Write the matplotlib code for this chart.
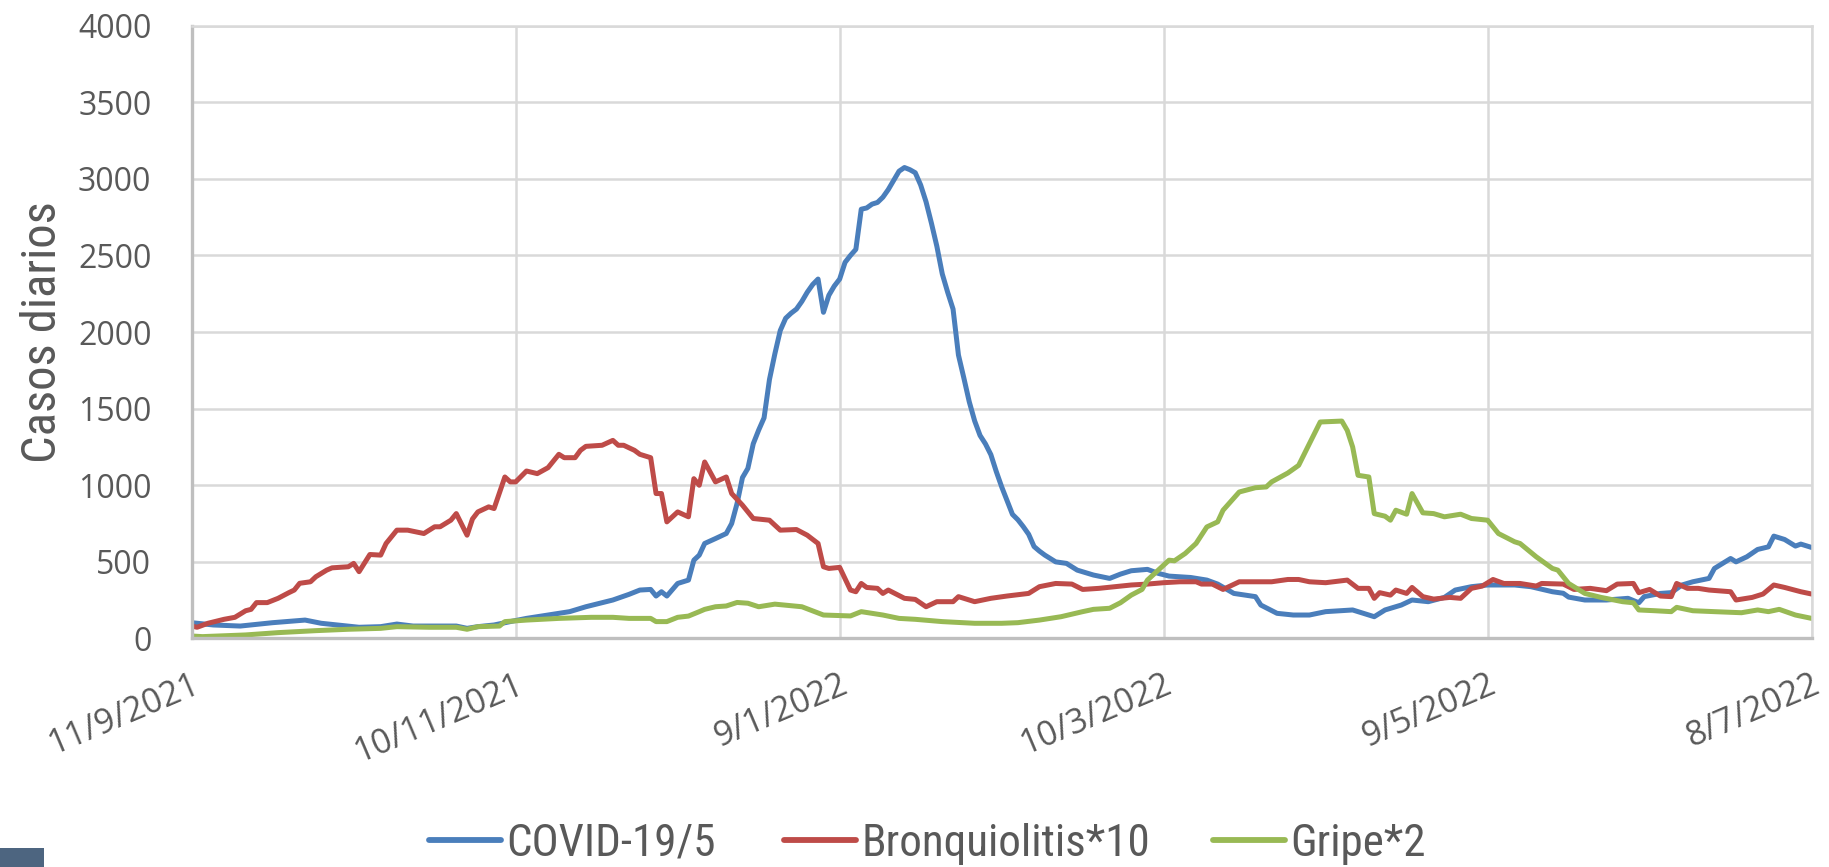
import matplotlib
matplotlib.use("Agg")
import matplotlib.pyplot as plt
from matplotlib import font_manager
from matplotlib.font_manager import FontProperties
from matplotlib.lines import Line2D
from matplotlib.patches import Rectangle
from datetime import date, timedelta

# Daily series: day offset from the first date, value on that day
start = date(2021, 9, 11)
tick_days = [0, 60, 120, 180, 240, 300]
tick_labels = ["11/9/2021", "10/11/2021", "9/1/2022", "10/3/2022", "9/5/2022", "8/7/2022"]
y_ticks = [0, 500, 1000, 1500, 2000, 2500, 3000, 3500, 4000]

covid_days = [0, 4, 9, 15, 21, 24, 27, 31, 35, 38, 41, 49, 51, 53, 56, 59, 62, 66, 70, 73,
              76, 78, 81, 83, 85, 86, 87, 88, 90, 92, 93, 94, 95, 97, 99, 100, 101, 102, 103, 104,
              105, 106, 107, 108, 109, 110, 111, 112, 113, 114, 115, 116, 117, 118, 119, 120, 121, 122, 123, 124,
              125, 126, 127, 128, 129, 130, 131, 132, 133, 134, 135, 136, 137, 138, 139, 140, 141, 142, 143, 144,
              145, 146, 147, 148, 149, 150, 151, 152, 153, 154, 155, 156, 157, 158, 160, 162, 164, 167, 170, 172,
              174, 177, 179, 181, 185, 188, 190, 193, 197, 198, 201, 204, 207, 210, 215, 217, 219, 221, 224, 226,
              229, 232, 234, 237, 240, 245, 248, 252, 254, 255, 258, 262, 266, 268, 269, 272, 274, 276, 278, 281,
              282, 285, 286, 288, 290, 292, 293, 295, 297, 298, 300]
covid_vals = [103, 88, 81, 103, 120, 99, 88, 73, 77, 94, 81, 81, 66, 77, 88, 110, 131, 153, 175, 207,
              233, 251, 288, 316, 320, 277, 305, 277, 359, 381, 511, 544, 620, 652, 685, 750, 881, 1050, 1110, 1271,
              1360, 1440, 1690, 1858, 2010, 2090, 2123, 2150, 2200, 2260, 2310, 2346, 2129, 2240, 2300, 2346, 2455, 2500, 2540, 2802,
              2810, 2835, 2846, 2880, 2930, 2990, 3050, 3074, 3060, 3040, 2960, 2850, 2710, 2560, 2380, 2260, 2150, 1850, 1700, 1545,
              1420, 1325, 1270, 1200, 1090, 990, 900, 810, 775, 730, 680, 600, 570, 544, 500, 490, 446, 414, 392, 420,
              442, 451, 425, 407, 398, 381, 355, 294, 273, 218, 164, 153, 153, 175, 186, 164, 142, 186, 218, 251,
              240, 268, 316, 338, 349, 349, 338, 305, 295, 270, 251, 251, 262, 233, 273, 294, 299, 349, 370, 392,
              457, 522, 500, 533, 581, 598, 668, 646, 603, 616, 594]

bronq_days = [0, 1, 3, 6, 8, 10, 11, 12, 14, 16, 18, 19, 20, 22, 23, 25, 26, 29, 30, 31,
              33, 35, 36, 38, 40, 43, 45, 46, 48, 49, 51, 52, 53, 55, 56, 58, 59, 60, 62, 64,
              66, 68, 69, 71, 72, 73, 76, 78, 79, 80, 82, 83, 85, 86, 87, 88, 90, 92, 93, 94,
              95, 97, 99, 100, 102, 104, 107, 109, 112, 114, 116, 117, 118, 120, 122, 123, 124, 125, 127, 128,
              129, 132, 134, 136, 138, 141, 142, 145, 148, 151, 155, 157, 160, 163, 165, 168, 171, 174, 177, 180,
              183, 186, 187, 189, 191, 194, 197, 200, 203, 205, 207, 210, 214, 216, 218, 219, 220, 222, 223, 225,
              226, 228, 230, 233, 235, 237, 239, 241, 243, 246, 249, 250, 254, 256, 259, 262, 264, 267, 268, 270,
              272, 274, 275, 277, 279, 281, 285, 286, 289, 291, 293, 295, 298, 300]
bronq_vals = [81, 73, 99, 125, 138, 181, 190, 234, 234, 262, 299, 316, 360, 370, 403, 446, 461, 468, 490, 436,
              548, 544, 620, 707, 707, 685, 729, 729, 772, 815, 674, 780, 826, 859, 848, 1054, 1022, 1022, 1093, 1076,
              1115, 1202, 1180, 1180, 1228, 1254, 1261, 1293, 1261, 1261, 1228, 1202, 1180, 946, 946, 761, 826, 794, 1043, 1000,
              1152, 1022, 1054, 946, 870, 783, 772, 707, 711, 674, 620, 468, 457, 464, 316, 305, 359, 333, 327, 294,
              316, 262, 255, 207, 240, 240, 273, 240, 262, 277, 294, 338, 359, 355, 320, 327, 338, 349, 355, 364,
              370, 370, 355, 355, 320, 370, 370, 370, 385, 385, 370, 364, 381, 327, 327, 262, 299, 283, 316, 294,
              333, 273, 257, 268, 262, 327, 342, 385, 359, 359, 342, 359, 355, 320, 327, 312, 355, 359, 299, 320,
              277, 273, 359, 327, 327, 316, 305, 251, 268, 290, 349, 333, 305, 290]

gripe_days = [0, 2, 10, 16, 23, 29, 35, 38, 44, 49, 51, 53, 57, 58, 62, 68, 74, 78, 81, 85,
              86, 88, 90, 92, 94, 95, 97, 99, 101, 103, 105, 108, 113, 117, 122, 124, 128, 131, 134, 139,
              145, 150, 153, 157, 161, 165, 167, 170, 172, 174, 176, 177, 179, 181, 182, 184, 186, 188, 190, 191,
              194, 197, 199, 200, 203, 205, 207, 209, 213, 214, 215, 216, 218, 219, 221, 222, 223, 225, 226, 228,
              230, 232, 235, 237, 240, 242, 245, 246, 249, 252, 253, 255, 258, 261, 265, 267, 268, 271, 274, 275,
              278, 282, 287, 290, 292, 294, 297, 300]
gripe_vals = [16, 12, 23, 38, 51, 60, 66, 77, 73, 73, 60, 77, 81, 110, 120, 131, 138, 138, 131, 131,
              110, 110, 138, 146, 175, 190, 207, 212, 235, 230, 207, 224, 207, 153, 147, 175, 153, 131, 125, 110,
              99, 99, 103, 120, 142, 175, 190, 197, 233, 283, 320, 381, 446, 511, 507, 555, 620, 728, 761, 837,
              956, 984, 989, 1022, 1080, 1130, 1272, 1413, 1419, 1358, 1250, 1065, 1054, 815, 798, 772, 837, 811, 946, 820,
              815, 794, 811, 783, 772, 685, 631, 620, 533, 457, 446, 359, 294, 268, 240, 233, 186, 181, 175, 203,
              181, 175, 168, 186, 175, 190, 153, 131]

series = [
    ("COVID-19/5", covid_days, covid_vals, "#4a7ebb"),
    ("Bronquiolitis*10", bronq_days, bronq_vals, "#be4b48"),
    ("Gripe*2", gripe_days, gripe_vals, "#98b954"),
]

TEXT = "#595959"


def to_dates(days):
    return [start + timedelta(days=d) for d in days]


def narrow_font(size, fallback_scale=0.8):
    """A condensed sans face if one is installed, else a plain one scaled down."""
    prefs = ["Liberation Sans Narrow", "DejaVu Sans Condensed", "Roboto Condensed",
             "Open Sans Condensed", "Noto Sans Condensed"]
    entries = font_manager.fontManager.ttflist
    for want in prefs:
        for f in entries:
            if f.name == want and f.style == "normal" and f.weight in (400, "normal", "regular"):
                return FontProperties(fname=f.fname, size=size)
    for f in entries:
        if f.stretch in ("condensed", "semi-condensed") and f.style == "normal" \
                and f.weight in (400, "normal", "regular"):
            return FontProperties(fname=f.fname, size=size)
    return FontProperties(family=["Roboto", "DejaVu Sans"], size=size * fallback_scale)


fig = plt.figure(figsize=(18.29, 8.67), dpi=100)
ax = fig.add_axes([0.1048, 0.2636, 0.9905 - 0.1048, 0.9704 - 0.2636])

for name, days, vals, color in series:
    ax.plot(to_dates(days), vals, color=color, lw=3.6, label=name,
            solid_joinstyle="round", solid_capstyle="round")

ax.set_xlim(start, start + timedelta(days=300))
ax.set_ylim(0, 4000)
ax.set_yticks(y_ticks)
ax.set_yticklabels([str(v) for v in y_ticks], family=["Open Sans", "DejaVu Sans"], fontsize=23)
ax.set_xticks(to_dates(tick_days))
ax.set_xticklabels(tick_labels, rotation=23, ha="right", va="top", rotation_mode="anchor",
                   family=["Open Sans", "DejaVu Sans"], fontsize=24.5)

grid_color = "#d9d9d9"
ax.grid(True, color=grid_color, lw=1.8)
ax.set_axisbelow(True)
for side in ("top", "right"):
    ax.spines[side].set_color(grid_color)
    ax.spines[side].set_linewidth(1.8)
for side in ("left", "bottom"):
    ax.spines[side].set_color("#bfbfbf")
    ax.spines[side].set_linewidth(2.4)

ax.tick_params(axis="both", length=0, colors=TEXT)
ax.tick_params(axis="y", pad=29)
ax.tick_params(axis="x", pad=21)

ax.set_ylabel("Casos diarios", fontproperties=narrow_font(35, 0.82), color=TEXT)
ax.yaxis.label.set_va("center")
ax.yaxis.set_label_coords(-0.092, 0.5)

# One legend entry per box so each swatch sits at its own spot along the bottom
legend_font = narrow_font(32.5, 0.72)
entry_x = [429 / 1829, 784 / 1829, 1213 / 1829]
for (name, _, _, color), x0 in zip(series, entry_x):
    handle = Line2D([], [], color=color, lw=4.2, solid_capstyle="round")
    fig.legend([handle], [name], loc="center left", bbox_to_anchor=(x0, 0.027),
               frameon=False, prop=legend_font, labelcolor=TEXT,
               handlelength=1.6, handletextpad=0.12, borderpad=0, borderaxespad=0)

fig.add_artist(Rectangle((0, 0), 44 / 1829, 19 / 867, transform=fig.transFigure,
                         facecolor="#4d6580", edgecolor="none"))

fig.savefig("out.png", dpi=100)
